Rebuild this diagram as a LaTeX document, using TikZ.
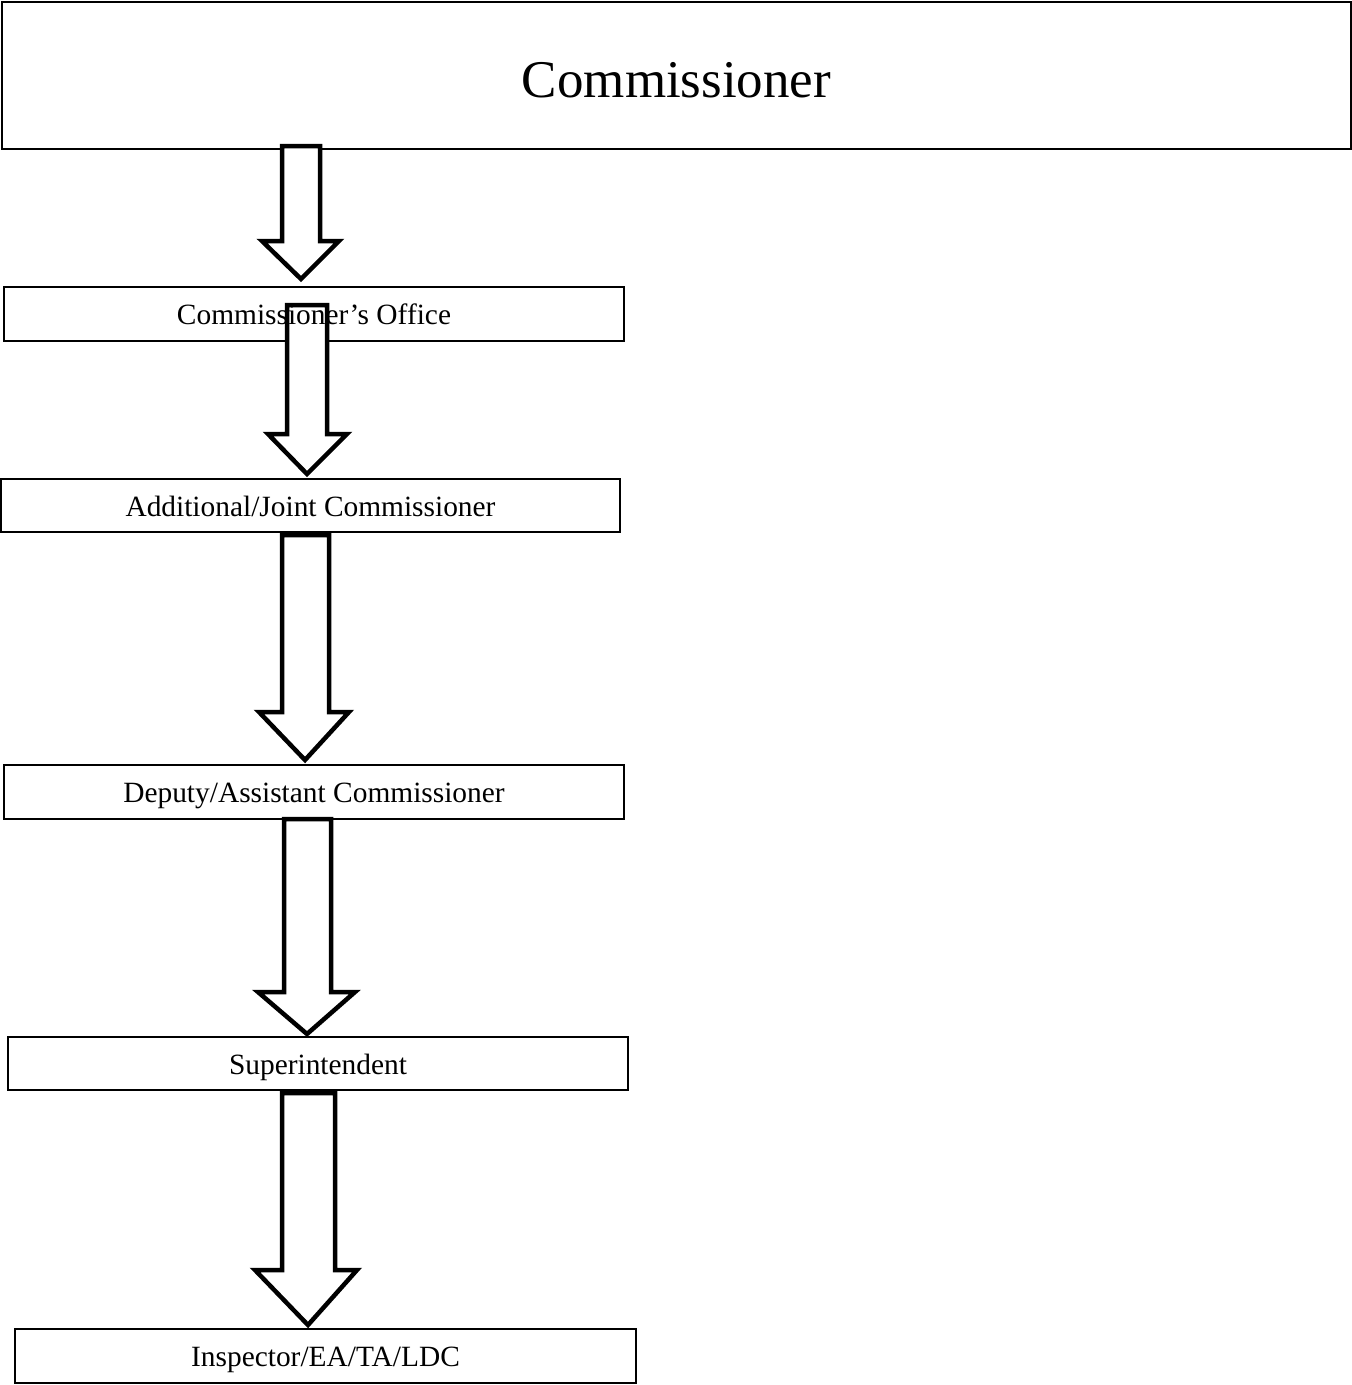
\documentclass[tikz,border=0pt]{standalone}
\usepackage{fontspec}
\setmainfont{Liberation Serif}
\begin{document}
\begin{tikzpicture}[x=1pt,y=-1pt,
  box/.style={draw=black,line width=1.5pt,fill=white,inner sep=0pt,outer sep=0pt,rectangle},
  lbl/.style={anchor=base,inner sep=0pt,font=\fontsize{29.4}{34}\selectfont},
  biglbl/.style={anchor=base,inner sep=0pt,font=\fontsize{53}{60}\selectfont},
  blockarrow/.style={draw=black,line width=4.5pt,fill=white,line join=miter,miter limit=10}]
\useasboundingbox (0,0) rectangle (1352,1385);
% boxes
\node[box,minimum width=1349pt,minimum height=147pt] (b0) at (676.5,75.5) {};
\node[box,minimum width=620pt,minimum height=54pt] (b1) at (314,314) {};
\node[box,minimum width=619pt,minimum height=53pt] (b2) at (310.5,505.5) {};
\node[box,minimum width=620pt,minimum height=54pt] (b3) at (314,792) {};
\node[box,minimum width=620pt,minimum height=53pt] (b4) at (318,1063.5) {};
\node[box,minimum width=621pt,minimum height=54pt] (b5) at (325.5,1356) {};
% block arrows: shaft left, shaft right, top, head base, head left, head right, tip
\newcommand{\myblockarrow}[8]{%
  \draw[blockarrow] (#1,#3) -- (#2,#3) -- (#2,#4) -- (#6,#4) -- (#7,#8) -- (#5,#4) -- (#1,#4) -- cycle;}
\myblockarrow{282}{320}{146}{241}{262}{339}{301}{279}
\myblockarrow{287}{327}{305}{434}{268}{347}{307}{474}
\myblockarrow{282}{329}{535}{712}{259}{349}{305}{760}
\myblockarrow{284}{331}{819}{992}{258}{355}{307}{1034}
\myblockarrow{282}{335}{1093}{1270}{255}{357}{308}{1325}
% labels
\node[biglbl] (t0) at ([yshift=-21.5pt]b0.center) {Commissioner};
\node[lbl] (t1) at ([yshift=-10.5pt]b1.center) {Commissioner’s Office};
\node[lbl] (t2) at ([yshift=-10.5pt]b2.center) {Additional/Joint Commissioner};
\node[lbl] (t3) at ([yshift=-10.5pt]b3.center) {Deputy/Assistant Commissioner};
\node[lbl] (t4) at ([yshift=-10.5pt]b4.center) {Superintendent};
\node[lbl] (t5) at ([yshift=-10.5pt]b5.center) {Inspector/EA/TA/LDC};
\end{tikzpicture}
\end{document}
